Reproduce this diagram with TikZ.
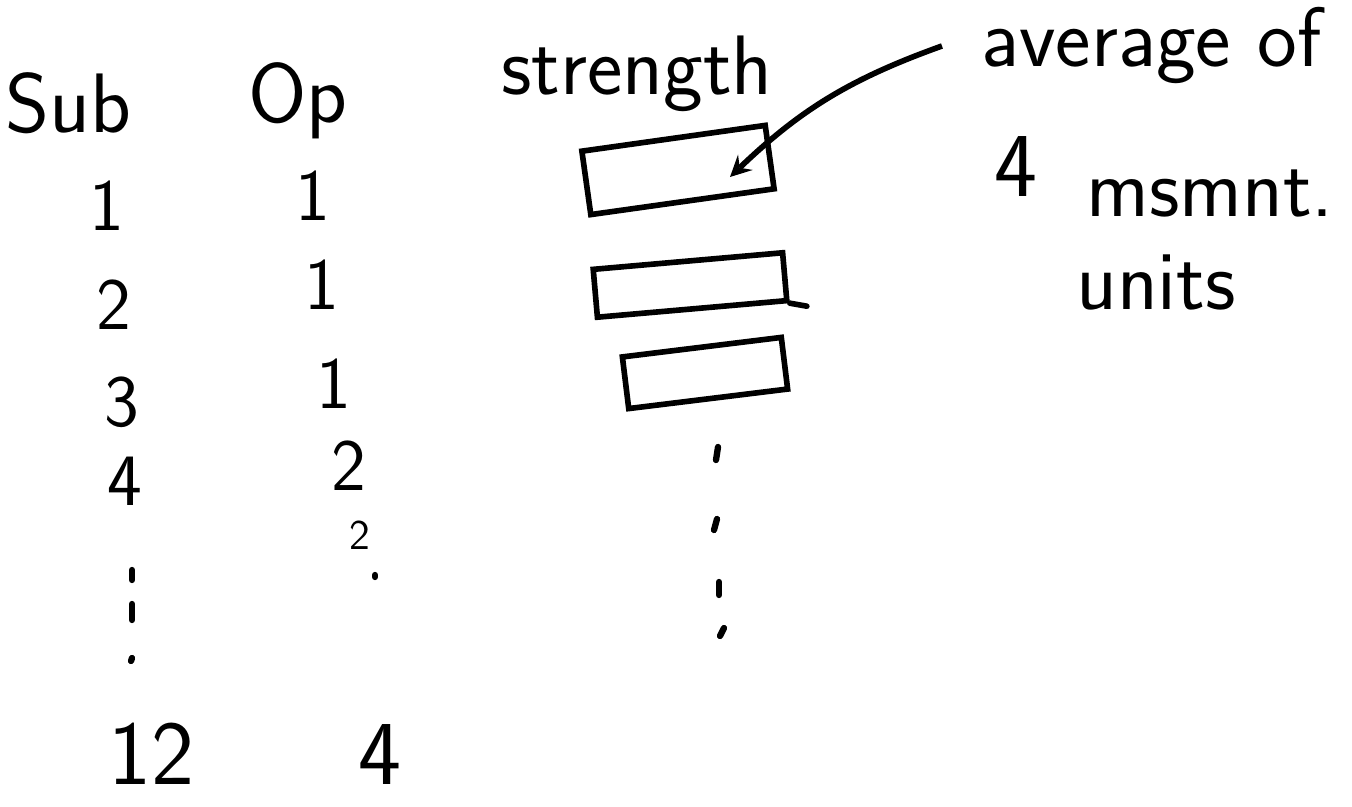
\documentclass[tikz,border=0pt]{standalone}
\usetikzlibrary{arrows,calc}
\tikzset{
  hand/.style={font=\sffamily\fontsize{24}{28}\selectfont, inner sep=1pt},
  digit/.style={font=\sffamily\fontsize{21}{25}\selectfont, inner sep=1pt},
  bigdigit/.style={font=\sffamily\fontsize{26}{30}\selectfont, inner sep=1pt},
  smalldigit/.style={font=\sffamily\fontsize{12}{14}\selectfont, inner sep=1pt},
  valbox/.style={draw, line width=1.6pt, inner sep=0pt},
  dotmark/.style={line width=1.8pt, line cap=round},
  pointer/.style={line width=1.6pt, ->, >=stealth},
}
\begin{document}
\begin{tikzpicture}[x=0.01cm,y=-0.01cm]
\useasboundingbox (0,0) rectangle (1352,807);
% heads
\node [hand, anchor=base] (sub) at (68,133) {Sub};
\node [hand, anchor=base] (op) at (298,123) {Op};
\node [hand, anchor=base west] (strength) at (497,95) {strength};
\node [hand, anchor=base west] (avg) at (977,67) {average of};
\node [bigdigit, anchor=base west] (avgfour) at (990,197) {4};
\node [hand, anchor=base west] (msmnt) at (1082,217) {msmnt.};
\node [hand, anchor=base west] (units) at (1072,310) {units};

% subject column
\node [digit] (s1) at (107,206) {1};
\node [digit] (s2) at (114,305) {2};
\node [digit] (s3) at (122,402) {3};
\node [digit] (s4) at (125,481) {4};
\draw [dotmark] (132,570)--(132,580);
\draw [dotmark] (132,604)--(132,620);
\draw [dotmark] (132,658)--(131,661);
\node [bigdigit, anchor=base] (s12) at (151,784) {12};

% operator column
\node [digit] (o1) at (313,196) {1};
\node [digit] (o2) at (322,285) {1};
\node [digit] (o3) at (334,384) {1};
\node [digit] (o4) at (349,466) {2};
\node [smalldigit] (o5) at (360,535) {2};
\draw [dotmark] (375,575)--(375,577);
\node [bigdigit, anchor=base] (o12) at (380,784) {4};

% strength boxes
\node [valbox, rotate=8, minimum width=1.85cm, minimum height=0.64cm] (box1) at (678,170) {};
\node [valbox, rotate=5, minimum width=1.9cm, minimum height=0.48cm] (box2) at (690,285) {};
\node [valbox, rotate=7, minimum width=1.6cm, minimum height=0.52cm] (box3) at (705,373) {};
\draw [line width=1.6pt, line cap=round] (box2.south east)--++(17,3);
\draw [dotmark] (718,447)--(716,460);
\draw [dotmark] (717,519)--(714,530);
\draw [dotmark] (719,582)--(719,595);
\draw [dotmark] (724,628)--(720,636);

% pointer to first box
\coordinate (box1tip) at (730,177);
\draw [pointer] ([xshift=-0.35cm]avg.west) to [bend right=12] (box1tip);
\end{tikzpicture}
\end{document}
